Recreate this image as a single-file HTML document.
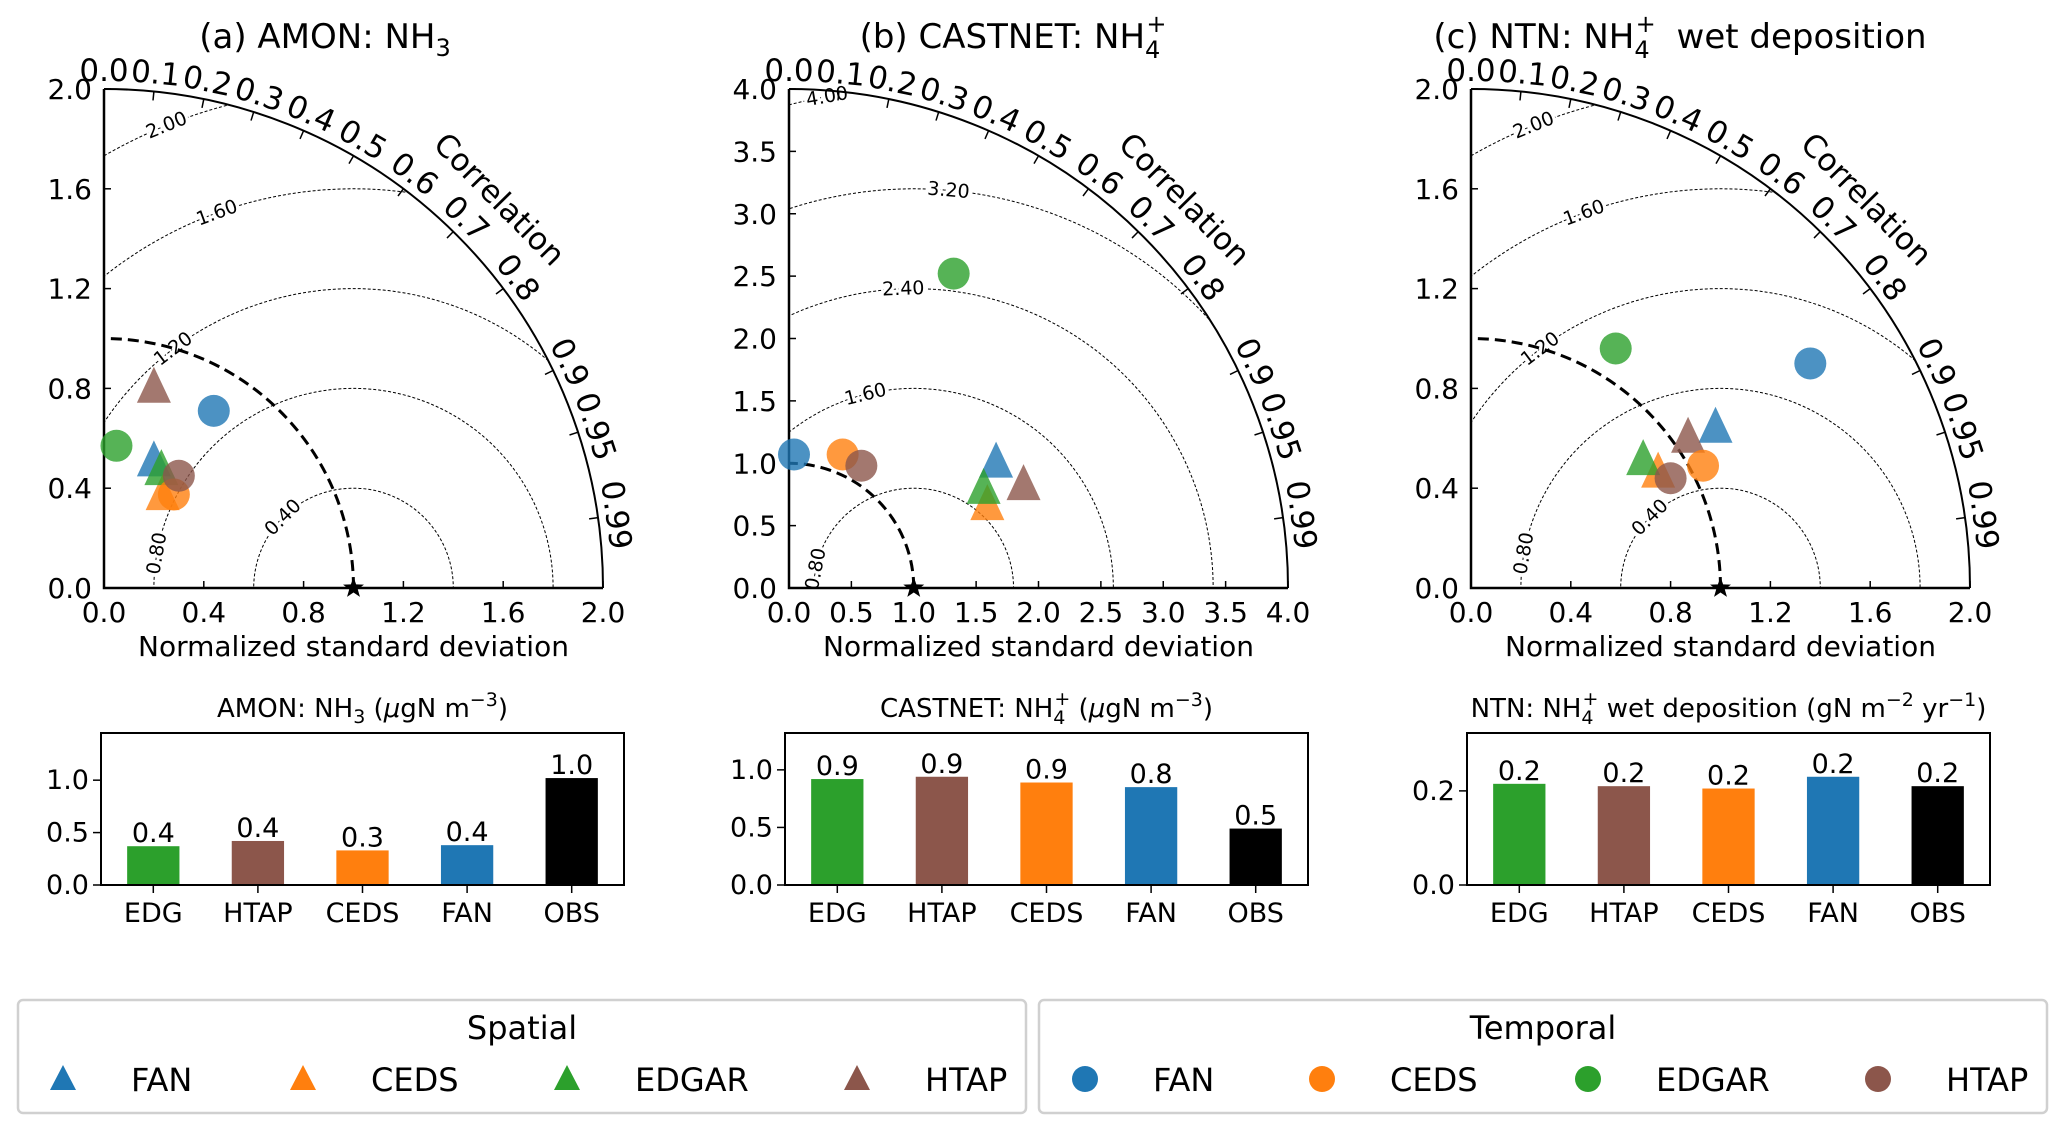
<!DOCTYPE html>
<html><head><meta charset="utf-8"><style>
html,body{margin:0;padding:0;background:#fff;}
svg{display:block;font-family:"DejaVu Sans","Liberation Sans",sans-serif;}
</style></head><body>
<svg id="fig" width="2067" height="1133" viewBox="0 0 2067 1133" xmlns="http://www.w3.org/2000/svg"></svg>
<script>
// ---- data: Taylor points (normalized std as x=std*cos, y=std*sin), order FAN, CEDS, EDGAR, HTAP
const models = ["FAN","CEDS","EDGAR","HTAP"];
const amonSpatialX = [0.20,0.235,0.23,0.20];
const amonSpatialY = [0.505,0.37,0.47,0.80];
const amonTemporalX = [0.44,0.28,0.05,0.30];
const amonTemporalY = [0.71,0.375,0.57,0.45];
const castSpatialX = [1.66,1.59,1.56,1.88];
const castSpatialY = [1.00,0.66,0.79,0.82];
const castTemporalX = [0.04,0.43,1.32,0.58];
const castTemporalY = [1.07,1.07,2.52,0.98];
const ntnSpatialX = [0.98,0.75,0.69,0.87];
const ntnSpatialY = [0.64,0.46,0.51,0.60];
const ntnTemporalX = [1.36,0.93,0.58,0.80];
const ntnTemporalY = [0.90,0.49,0.96,0.44];
// ---- bar data, order EDG, HTAP, CEDS, FAN, OBS
const barCats = ["EDG","HTAP","CEDS","FAN","OBS"];
const amonBars = [0.37,0.42,0.33,0.38,1.02];
const castBars = [0.92,0.94,0.89,0.85,0.49];
const ntnBars = [0.215,0.21,0.205,0.23,0.21];
const corrTicks = [0.0,0.1,0.2,0.3,0.4,0.5,0.6,0.7,0.8,0.9,0.95,0.99];
const ticks2 = [0.0,0.4,0.8,1.2,1.6,2.0];
const ticks4 = [0.0,0.5,1.0,1.5,2.0,2.5,3.0,3.5,4.0];
const rms2 = [0.40,0.80,1.20,1.60,2.00];
const rms4 = [0.80,1.60,2.40,3.20,4.00];

const colors = {FAN:"#1f77b4",CEDS:"#ff7f0e",EDGAR:"#2ca02c",HTAP:"#8c564b"};
const barColors = ["#2ca02c","#8c564b","#ff7f0e","#1f77b4","#000000"];
const NS="http://www.w3.org/2000/svg";
const svg=document.getElementById('fig');
function mk(tag,attrs,parent){const e=document.createElementNS(NS,tag);for(const k in attrs)e.setAttribute(k,attrs[k]);(parent||svg).appendChild(e);return e;}

function taylor(cfg){
  const g=mk('g',{});
  
  
  const ox=cfg.ox, oy=588, R=499, M=cfg.max, s=R/M;
  const X=v=>ox+v*s, Y=v=>oy-v*s;
  const t=mk('text',{x:cfg.tx,y:48,'font-size':34,'text-anchor':'middle'},g);
  
  
  t.innerHTML=cfg.title;
  const cid='clip'+cfg.id;
  const cp=mk('clipPath',{id:cid},g);
  mk('path',{d:`M${ox},${oy} L${ox+R},${oy} A${R},${R} 0 0 0 ${ox},${oy-R} Z`},cp);
  const cg=mk('g',{'clip-path':`url(#${cid})`},g);
  cfg.rms.forEach((lv,i)=>{
    const c=mk('circle',{cx:X(1),cy:Y(0),r:lv*s,fill:'none',stroke:'#000','stroke-width':1,'stroke-dasharray':'3,2'},cg);
    
    
  });
  cfg.rms.forEach((lv,i)=>{
    const a=cfg.rmsAng[i]*Math.PI/180;
    const px=X(1+lv*Math.cos(a)), py=Y(lv*Math.sin(a));
    let rot=-(cfg.rmsAng[i]-90);
    const lt=mk('text',{x:px,y:py,'font-size':19,'text-anchor':'middle','dominant-baseline':'central',transform:`rotate(${rot} ${px} ${py})`,stroke:'#fff','stroke-width':6,'paint-order':'stroke'},g);
    
    
    lt.textContent=lv.toFixed(2);
  });
  const ref=mk('path',{d:`M${X(1)},${oy} A${s},${s} 0 0 0 ${ox},${Y(1)}`,fill:'none',stroke:'#000','stroke-width':3,'stroke-dasharray':'11,6'},g);
  
  
  mk('path',{d:`M${ox+R},${oy} A${R},${R} 0 0 0 ${ox},${oy-R}`,fill:'none',stroke:'#000','stroke-width':2},g);
  const sp=mk('path',{d:`M${ox},${oy-R} L${ox},${oy} L${ox+R},${oy}`,fill:'none',stroke:'#000','stroke-width':2.5},g);
  
  
  cfg.ticks.forEach(v=>{
    mk('line',{x1:X(v),y1:oy,x2:X(v),y2:oy-7,stroke:'#000','stroke-width':1.5},g);
    mk('line',{x1:ox,y1:Y(v),x2:ox+7,y2:Y(v),stroke:'#000','stroke-width':1.5},g);
    const xt=mk('text',{x:X(v),y:622,'font-size':28,'text-anchor':'middle'},g);
    
    
    xt.textContent=v.toFixed(1);
    const yt=mk('text',{x:ox-12,y:Y(v)+10,'font-size':28,'text-anchor':'end'},g);
    
    
    yt.textContent=v.toFixed(1);
  });
  const xl=mk('text',{x:ox+R/2,y:656,'font-size':28,'text-anchor':'middle'},g);
  
  
  xl.textContent='Normalized standard deviation';
  corrTicks.forEach(c=>{
    const th=Math.acos(c);
    const cx=Math.cos(th), sy=Math.sin(th);
    mk('line',{x1:ox+R*cx,y1:oy-R*sy,x2:ox+(R-9)*cx,y2:oy-(R-9)*sy,stroke:'#000','stroke-width':1.5},g);
    const rr=R+8, px=ox+rr*cx, py=oy-rr*sy;
    const rot=90-th*180/Math.PI;
    const ct=mk('text',{x:px,y:py,'font-size':31,'text-anchor':'middle',transform:`rotate(${rot} ${px} ${py})`},g);
    
    
    ct.textContent=(c===0.95||c===0.99)?c.toFixed(2):c.toFixed(1);
  });
  const ca=44.5*Math.PI/180, cr=R*1.11, cpx=ox+cr*Math.cos(ca), cpy=oy-cr*Math.sin(ca);
  const corr=mk('text',{x:cpx,y:cpy,'font-size':31,'text-anchor':'middle','dominant-baseline':'central',transform:`rotate(45.5 ${cpx} ${cpy})`},g);
  
  
  corr.textContent='Correlation';
  const tri=(x,y,col)=>{const h=36,w=34;return mk('path',{d:`M${x},${y-h*0.6} L${x+w/2},${y+h*0.4} L${x-w/2},${y+h*0.4} Z`,fill:col,'fill-opacity':0.8},g);};
  cfg.sx.forEach((v,i)=>{
    const p=tri(X(v),Y(cfg.sy[i]),colors[models[i]]);
    
    
  });
  cfg.tx2.forEach((v,i)=>{
    const p=mk('circle',{cx:X(v),cy:Y(cfg.ty[i]),r:16,fill:colors[models[i]],'fill-opacity':0.8},g);
    
    
  });
  const sx=X(1), sy0=oy; let d='';
  for(let k=0;k<10;k++){const a=-Math.PI/2+k*Math.PI/5, rr=k%2?4.5:11; d+=(k?'L':'M')+(sx+rr*Math.cos(a))+','+(sy0+rr*Math.sin(a));}
  const st=mk('path',{d:d+'Z',fill:'#000'},g);
  
  
}

taylor({id:'a',name:'taylor-amon',ox:104,max:2,tx:325,title:'(a) AMON: NH<tspan font-size="24" dy="8">3</tspan>',
  ticks:ticks2,rms:rms2,rmsAng:[135,170,127,110,112],sx:amonSpatialX,sy:amonSpatialY,tx2:amonTemporalX,ty:amonTemporalY});
taylor({id:'b',name:'taylor-castnet',ox:789,max:4,tx:1013,title:'(b) CASTNET: NH<tspan font-size="24" dy="10">4</tspan><tspan font-size="24" dx="-14" dy="-26">+</tspan>',
  ticks:ticks4,rms:rms4,rmsAng:[169,104,92,85,100],sx:castSpatialX,sy:castSpatialY,tx2:castTemporalX,ty:castTemporalY});
taylor({id:'c',name:'taylor-ntn',ox:1471,max:2,tx:1680,title:'(c) NTN: NH<tspan font-size="24" dy="10">4</tspan><tspan font-size="24" dx="-14" dy="-26">+</tspan><tspan dy="16" dx="10">  wet deposition</tspan>',
  ticks:ticks2,rms:rms2,rmsAng:[135,170,127,110,112],sx:ntnSpatialX,sy:ntnSpatialY,tx2:ntnTemporalX,ty:ntnTemporalY});

function bars(cfg){
  const g=mk('g',{});
  
  
  const L=cfg.left, W=523, T=733, B=885;
  const X=i=>L+(i+0.5)*W/5, Y=v=>B-(v/cfg.ymax)*(B-T);
  const t=mk('text',{x:L+W/2,y:717,'font-size':26,'text-anchor':'middle'},g);
  
  
  t.innerHTML=cfg.title;
  cfg.vals.forEach((v,i)=>{
    const bw=W/5*0.5;
    const r=mk('rect',{x:X(i)-bw/2,y:Y(v),width:bw,height:B-Y(v),fill:barColors[i]},g);
    
    
    const lt=mk('text',{x:X(i),y:Y(v)-4,'font-size':27,'text-anchor':'middle'},g);
    
    
    lt.textContent=v.toFixed(1);
    mk('line',{x1:X(i),y1:B,x2:X(i),y2:B+8,stroke:'#000','stroke-width':1.5},g);
    const ct=mk('text',{x:X(i),y:B+37,'font-size':27,'text-anchor':'middle'},g);
    
    
    ct.textContent=barCats[i];
  });
  cfg.yt.forEach(v=>{
    mk('line',{x1:L,y1:Y(v),x2:L-8,y2:Y(v),stroke:'#000','stroke-width':1.5},g);
    const yt=mk('text',{x:L-12,y:Y(v)+9,'font-size':27,'text-anchor':'end'},g);
    
    
    yt.textContent=v.toFixed(1);
  });
  const f=mk('rect',{x:L,y:T,width:W,height:B-T,fill:'none',stroke:'#000','stroke-width':2},g);
  
  
}
bars({name:'bar-chart-amon',left:101,ymax:1.45,yt:[0,0.5,1.0],vals:amonBars,title:'AMON: NH<tspan font-size="19" dy="6">3</tspan><tspan dy="-6"> (</tspan><tspan font-style="italic">μ</tspan>gN m<tspan font-size="19" dy="-11">−3</tspan><tspan dy="11">)</tspan>'});
bars({name:'bar-chart-castnet',left:785,ymax:1.32,yt:[0,0.5,1.0],vals:castBars,title:'CASTNET: NH<tspan font-size="19" dy="7">4</tspan><tspan font-size="19" dx="-11" dy="-19">+</tspan><tspan dy="12">  (</tspan><tspan font-style="italic">μ</tspan>gN m<tspan font-size="19" dy="-11">−3</tspan><tspan dy="11">)</tspan>'});
bars({name:'bar-chart-ntn',left:1467,ymax:0.323,yt:[0,0.2],vals:ntnBars,title:'NTN: NH<tspan font-size="19" dy="7">4</tspan><tspan font-size="19" dx="-11" dy="-19">+</tspan><tspan dy="12">  wet deposition (gN m</tspan><tspan font-size="19" dy="-11">−2</tspan><tspan dy="11"> yr</tspan><tspan font-size="19" dy="-11">−1</tspan><tspan dy="11">)</tspan>'});

function legend(cfg){
  const g=mk('g',{});
  
  
  mk('rect',{x:cfg.x,y:1000,width:cfg.w,height:113,rx:5,fill:'#fff',stroke:'#d0d0d0','stroke-width':2.5},g);
  const t=mk('text',{x:cfg.x+cfg.w/2,y:1039,'font-size':32,'text-anchor':'middle'},g);
  
  
  t.textContent=cfg.title;
  models.forEach((m,i)=>{
    const mx=cfg.mx[i], my=1079;
    let e;
    if(cfg.tri) e=mk('path',{d:`M${mx},${my-14} L${mx+13},${my+11} L${mx-13},${my+11} Z`,fill:colors[m]},g);
    else e=mk('circle',{cx:mx,cy:my,r:13,fill:colors[m]},g);
    
    
    const lt=mk('text',{x:mx+68,y:my+12,'font-size':32},g);
    
    
    lt.textContent=m;
  });
}
legend({name:'legend-spatial',x:18,w:1008,title:'Spatial',tri:true,mx:[63,303,567,857]});
legend({name:'legend-temporal',x:1039,w:1008,title:'Temporal',tri:false,mx:[1085,1322,1588,1878]});
</script>
</body></html>
